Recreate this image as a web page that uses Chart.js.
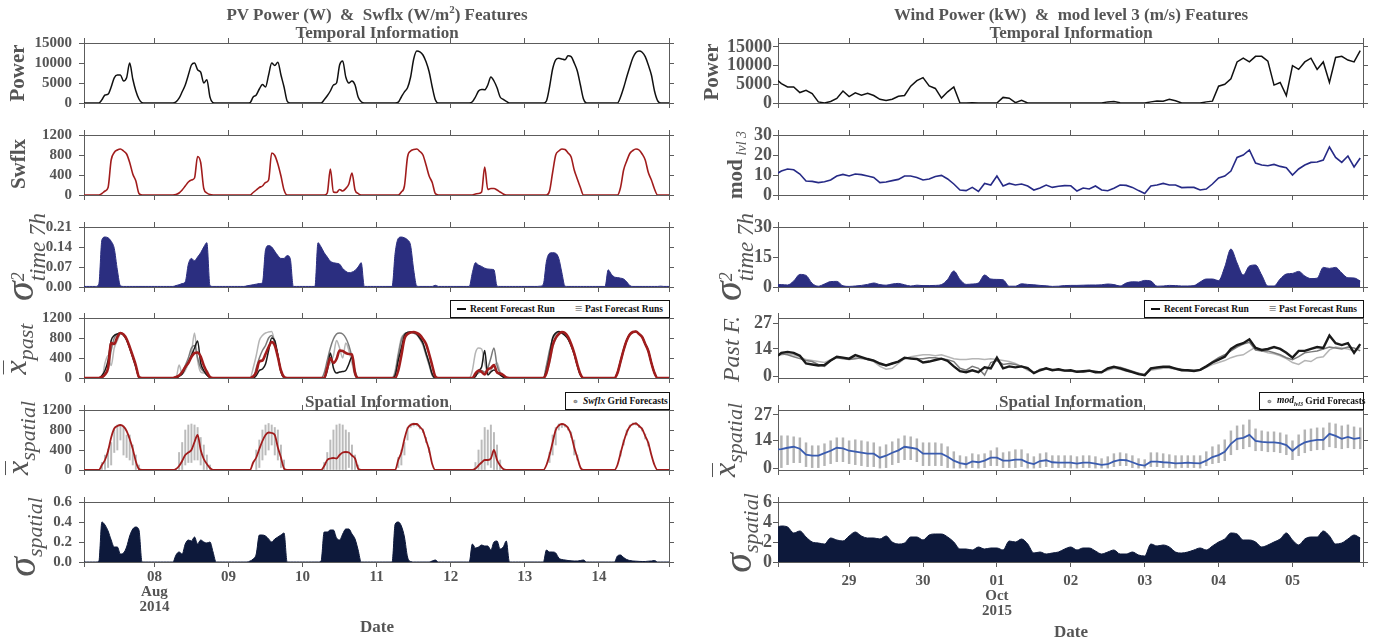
<!DOCTYPE html>
<html>
<head>
<meta charset="utf-8">
<script src="https://cdn.jsdelivr.net/npm/chart.js@4.4.1/dist/chart.umd.min.js"></script>
<style>
  body { margin: 0; background: #fff; }
  #fig { position: relative; width: 1385px; height: 644px; overflow: hidden; background: #fff; }
  #plots canvas { position: absolute; }
  .t { position: absolute; transform: translate(-50%, -50%); white-space: nowrap; color: #555;
       font-family: 'Liberation Serif', serif; font-weight: bold; font-size: 17px; line-height: 1; }
  .t sup { font-size: 11px; position: relative; top: -1px; }
  .yl { position: absolute; transform: translate(-50%, -50%) rotate(-90deg); white-space: nowrap; color: #555;
        font-family: 'Liberation Serif', serif; line-height: 1; }
  .b { font-weight: bold; font-size: 21px; }
  .big { font-style: italic; font-size: 40px; }
  .ss { display: inline-flex; flex-direction: column; vertical-align: middle; font-style: italic; line-height: 0.95; }
  .sp { font-size: 18px; }
  .sb { font-size: 23px; }
  .xb { display: inline-block; font-style: italic; font-size: 32px; line-height: 0.6; border-top: 1.5px solid #555; padding-top: 2px; }
  .sub { font-style: italic; font-size: 22px; vertical-align: -7px; }
  .lg { position: absolute; box-sizing: border-box; border: 1px solid #111; background: #fff; display: flex; align-items: center;
        font-family: 'Liberation Serif', serif; font-weight: bold; font-size: 9.5px; color: #111; white-space: nowrap; }
  .lg .ln { display: inline-block; width: 9px; height: 2px; background: #111; margin: 0 4px 0 6px; }
  .lg .eq { color: #888; font-size: 13px; margin: 0 3px 0 auto; }
  .lg .dot { color: #888; font-size: 11px; margin: 0 4px 0 6px; }
</style>
</head>
<body>
<div id="fig">
  <div id="plots"></div>

  <div class="t" style="left:377px;top:14px">PV Power (W)&nbsp;&nbsp;&amp;&nbsp;&nbsp;Swflx (W/m<sup>2</sup>) Features</div>
  <div class="t" style="left:377px;top:32px">Temporal Information</div>
  <div class="t" style="left:1071px;top:14px">Wind Power (kW)&nbsp;&nbsp;&amp;&nbsp;&nbsp;mod level 3 (m/s) Features</div>
  <div class="t" style="left:1071px;top:32px">Temporal Information</div>
  <div class="t" style="left:377px;top:401px">Spatial Information</div>
  <div class="t" style="left:1071px;top:401px">Spatial Information</div>
  <div class="t" style="left:377px;top:626px">Date</div>
  <div class="t" style="left:1071px;top:631px">Date</div>

  <div class="yl b" style="left:17px;top:73px">Power</div>
  <div class="yl b" style="left:18px;top:164px">Swflx</div>
  <div class="yl" style="left:24px;top:257px"><span class="big">σ</span><span class="ss"><span class="sp">2</span><span class="sb">time 7h</span></span></div>
  <div class="yl" style="left:20px;top:349px"><span class="xb">x</span><span class="sub">past</span></div>
  <div class="yl" style="left:22px;top:438px"><span class="xb">x</span><span class="sub">spatial</span></div>
  <div class="yl" style="left:24px;top:537px"><span class="big">σ</span><span class="sub">spatial</span></div>

  <div class="yl b" style="left:711px;top:72px">Power</div>
  <div class="yl" style="left:737px;top:165px"><span class="b">mod</span> <span style="font-style:italic;font-size:14px;vertical-align:-4px">lvl 3</span></div>
  <div class="yl" style="left:732px;top:257px"><span class="big">σ</span><span class="ss"><span class="sp">2</span><span class="sb">time 7h</span></span></div>
  <div class="yl" style="left:731px;top:349px;font-style:italic;font-size:24px">Past F.</div>
  <div class="yl" style="left:729px;top:440px"><span class="xb">x</span><span class="sub">spatial</span></div>
  <div class="yl" style="left:740px;top:533px"><span class="big">σ</span><span class="sub">spatial</span></div>

  <div class="lg" style="left:450px;top:300px;width:220px;height:18px"><span class="ln"></span>Recent Forecast Run<span class="eq">≡</span><span style="margin-right:6px">Past Forecast Runs</span></div>
  <div class="lg" style="left:1144px;top:300px;width:220px;height:18px"><span class="ln"></span>Recent Forecast Run<span class="eq">≡</span><span style="margin-right:6px">Past Forecast Runs</span></div>
  <div class="lg" style="left:565px;top:392px;width:105px;height:18px"><span class="dot">∘</span><i>Swflx</i>&nbsp;Grid Forecasts</div>
  <div class="lg" style="left:1259px;top:392px;width:105px;height:18px"><span class="dot">∘</span><i>mod<sub style="font-size:6px">lvl3</sub></i>&nbsp;Grid Forecasts</div>
</div>

<script>
// ---------- PV side (Aug 7-14 2014), hourly values, one row per day ----------
const pvDayLabels = [['08', 'Aug', '2014'], '09', '10', '11', '12', '13', '14'];

const pvPower = [
  [0,0,0,0,0,0,0,800,2000,2200,4000,6300,7000,7000,5500,6300,10000,6000,3000,1000,100,0,0,0],
  [0,0,0,0,0,0,0,300,1200,2800,4500,7000,9500,10000,8300,7700,5000,5800,1500,100,0,0,0,0],
  [0,0,0,0,0,0,0,100,1500,2000,3500,4600,4000,7000,10000,9400,10200,7000,4000,500,0,0,0,0],
  [0,0,0,0,0,0,0,800,1800,3000,4500,5000,9500,10500,6500,5000,5500,4500,1500,300,0,0,0,0],
  [0,0,0,0,0,0,0,200,1500,2800,3800,6500,11000,13000,12800,12000,10300,7800,4000,800,0,0,0,0],
  [0,0,0,0,0,0,0,300,1500,3000,3400,3300,4500,6500,5500,3800,1500,900,400,0,0,0,0,0],
  [0,0,0,0,0,0,0,500,4000,8500,10800,11200,11000,10800,11800,11600,10000,8000,4500,1000,0,0,0,0],
  [0,0,0,0,0,0,0,1500,3800,6500,9000,11300,12600,13000,12700,11600,9500,7000,3000,600,0,0,0,0]
];

const pvSwflx = [
  [0,0,0,0,0,0,0,30,80,150,700,850,900,920,880,820,650,420,280,30,0,0,0,0],
  [0,0,0,0,0,0,0,10,40,100,180,260,300,340,770,650,130,40,10,0,0,0,0,0],
  [0,0,0,0,0,0,0,0,50,100,150,180,250,300,840,790,620,380,100,0,0,0,0,0],
  [0,0,0,0,0,0,0,0,40,520,60,50,110,80,130,220,440,100,30,0,0,0,0,0],
  [0,0,0,0,0,0,0,0,60,180,760,880,910,920,870,800,600,380,250,30,0,0,0,0],
  [0,0,0,0,0,0,0,0,20,30,60,560,110,130,130,100,60,20,0,0,0,0,0,0],
  [0,0,0,0,0,0,0,0,80,450,800,880,920,910,840,760,500,320,150,0,0,0,0,0],
  [0,0,0,0,0,0,0,150,500,680,830,890,920,900,820,700,450,300,120,0,0,0,0,0]
];

const pvVarTime = [
  [0.002,0.002,0.002,0.002,0.002,0.002,0.01,0.165,0.175,0.172,0.16,0.135,0.06,0.004,0.002,0.002,0.002,0.002,0.002,0.002,0.002,0.002,0.002,0.002],
  [0.002,0.002,0.002,0.002,0.002,0.002,0.002,0.005,0.008,0.012,0.018,0.08,0.1,0.092,0.105,0.12,0.14,0.155,0.005,0.002,0.002,0.002,0.002,0.002],
  [0.002,0.002,0.002,0.002,0.002,0.002,0.004,0.006,0.008,0.01,0.012,0.015,0.13,0.145,0.14,0.125,0.11,0.1,0.1,0.11,0.1,0.002,0.002,0.002],
  [0.002,0.002,0.002,0.002,0.002,0.155,0.14,0.12,0.105,0.09,0.085,0.083,0.08,0.065,0.055,0.05,0.052,0.058,0.07,0.085,0.002,0.002,0.002,0.002],
  [0.002,0.002,0.002,0.002,0.002,0.002,0.12,0.17,0.175,0.172,0.165,0.145,0.06,0.003,0.002,0.002,0.002,0.002,0.002,0.006,0.002,0.002,0.002,0.002],
  [0.002,0.002,0.002,0.002,0.002,0.002,0.002,0.05,0.085,0.077,0.072,0.066,0.063,0.062,0.06,0.003,0.002,0.002,0.002,0.002,0.002,0.002,0.002,0.002],
  [0.002,0.002,0.002,0.002,0.002,0.003,0.01,0.09,0.118,0.12,0.118,0.1,0.05,0.003,0.002,0.002,0.002,0.002,0.002,0.002,0.002,0.002,0.002,0.002],
  [0.002,0.002,0.002,0.06,0.045,0.035,0.033,0.031,0.028,0.018,0.005,0.002,0.002,0.002,0.002,0.002,0.002,0.002,0.002,0.002,0.003,0.002,0.002,0.002]
];

const pvPastMean = [
  [0,0,0,0,0,0,0,20,70,200,700,680,820,900,870,780,620,440,250,20,0,0,0,0],
  [0,0,0,0,0,0,0,20,50,120,220,300,420,500,510,430,250,120,20,0,0,0,0,0],
  [0,0,0,0,0,0,0,0,30,120,330,350,480,620,720,650,420,150,20,0,0,0,0,0],
  [0,0,0,0,0,0,0,0,200,400,300,380,550,540,500,480,470,100,0,0,0,0,0,0],
  [0,0,0,0,0,0,0,150,450,780,880,910,920,900,860,780,680,480,250,30,0,0,0,0],
  [0,0,0,0,0,0,0,0,90,150,120,70,170,200,260,110,90,60,10,0,0,0,0,0],
  [0,0,0,0,0,0,0,100,350,650,800,880,920,900,820,680,500,270,80,0,0,0,0,0],
  [0,0,0,0,0,0,100,330,560,750,870,920,930,880,820,680,540,300,100,0,0,0,0,0]
];
const pvPastRecent = [
  [0,0,0,0,0,0,0,50,150,350,750,850,880,900,860,760,600,420,230,20,0,0,0,0],
  [0,0,0,0,0,0,0,0,40,80,200,320,450,600,740,300,150,60,10,0,0,0,0,0],
  [0,0,0,0,0,0,0,0,0,50,150,180,280,550,800,750,450,120,10,0,0,0,0,0],
  [0,0,0,0,0,0,0,0,150,500,200,100,120,130,150,280,420,80,0,0,0,0,0,0],
  [0,0,0,0,0,0,50,350,600,850,910,920,910,880,800,700,500,300,80,0,0,0,0,0],
  [0,0,0,0,0,0,0,0,30,150,220,550,60,120,160,120,60,20,0,0,0,0,0,0],
  [0,0,0,0,0,0,0,150,450,800,900,930,900,850,780,650,480,250,60,0,0,0,0,0],
  [0,0,0,0,0,0,100,330,560,750,870,920,930,880,820,680,540,300,100,0,0,0,0,0]
];
const pvPastOldA = [
  [0,0,0,0,0,0,0,0,300,450,250,600,750,880,870,780,600,400,200,20,0,0,0,0],
  [0,0,0,0,0,0,0,0,260,80,150,300,500,900,350,120,100,150,30,0,0,0,0,0],
  [0,0,0,0,0,0,0,0,200,450,750,850,900,920,930,700,450,150,0,0,0,0,0,0],
  [0,0,0,0,0,0,0,0,200,300,450,750,600,400,700,550,300,50,0,0,0,0,0,0],
  [0,0,0,0,0,0,150,500,800,880,910,920,900,860,780,650,450,250,50,0,0,0,0,0],
  [0,0,0,0,0,0,0,150,500,600,580,300,100,150,250,300,120,30,0,0,0,0,0,0],
  [0,0,0,0,0,0,0,80,300,600,780,880,920,900,820,680,500,270,80,0,0,0,0,0],
  [0,0,0,0,0,0,80,300,540,740,860,910,930,880,820,680,540,300,100,0,0,0,0,0]
];
const pvPastOldB = [
  [0,0,0,0,0,0,0,0,80,200,550,800,880,900,860,760,600,420,220,20,0,0,0,0],
  [0,0,0,0,0,0,0,0,30,100,250,400,600,650,400,200,130,60,10,0,0,0,0,0],
  [0,0,0,0,0,0,0,0,0,200,400,550,650,800,850,700,450,150,20,0,0,0,0,0],
  [0,0,0,0,0,0,0,100,350,600,780,880,900,880,800,650,420,150,0,0,0,0,0,0],
  [0,0,0,0,0,0,100,450,750,880,910,920,900,870,790,680,480,280,60,0,0,0,0,0],
  [0,0,0,0,0,0,0,0,50,100,150,120,200,400,600,250,100,20,0,0,0,0,0,0],
  [0,0,0,0,0,0,0,250,550,780,880,920,910,860,780,640,470,250,60,0,0,0,0,0],
  [0,0,0,0,0,0,120,350,580,760,880,920,930,880,820,680,540,300,100,0,0,0,0,0]
];

const pvSpatialMean = [
  [0,0,0,0,0,0,0,100,200,380,650,830,880,900,870,780,620,420,170,20,0,0,0,0],
  [0,0,0,0,0,0,0,20,80,180,300,350,400,560,700,400,220,120,40,0,0,0,0,0],
  [0,0,0,0,0,0,0,0,150,250,420,580,700,750,740,700,450,250,30,0,0,0,0,0],
  [0,0,0,0,0,0,0,80,200,230,240,230,300,350,360,350,290,230,30,0,0,0,0,0],
  [0,0,0,0,0,0,0,200,350,620,830,900,920,920,860,790,600,400,120,0,0,0,0,0],
  [0,0,0,0,0,0,0,0,30,90,150,200,200,230,400,200,90,20,0,0,0,0,0,0],
  [0,0,0,0,0,0,0,100,300,550,800,890,920,900,840,700,450,250,50,0,0,0,0,0],
  [0,0,0,0,0,0,100,330,560,750,870,920,930,880,820,680,540,300,100,0,0,0,0,0]
];
// spread of the grid forecasts (hour, lowest, highest)
const pvGridHour = [7,8,9,10,11,12,13,14,15,16,17,18,19, 32,33,34,35,36,37,38,39,40,41,42,
  57,58,59,60,61,62,63,64,65,66, 79,80,81,82,83,84,85,86,87,88,89,90,
  103,104,105,106,107,108,109,110,111,112,113, 128,129,130,131,132,133,134,135,136,
  152,153,154,155,156,157,158,159,160,161, 175,176,177,178,179,180,181,182,183,184];
const pvGridLow = [0,0,50,100,350,400,600,300,250,200,100,0,0, 0,0,100,150,150,200,200,100,0,0,0,
  0,50,200,300,400,500,300,200,50,0, 0,0,0,0,0,0,0,0,50,0,0,0,
  50,100,300,600,850,880,880,820,750,550,350, 0,0,0,0,100,50,0,0,0,
  150,300,500,800,850,860,800,650,300,200, 280,500,700,850,900,900,850,780,620,480];
const pvGridHigh = [150,300,420,550,800,900,900,860,700,700,500,300,100, 350,550,800,900,920,900,850,650,500,300,100,
  400,600,800,900,930,900,850,800,500,200, 150,350,600,800,900,920,900,800,750,500,300,100,
  250,400,550,850,920,940,930,880,820,650,450, 150,400,600,850,800,900,750,500,200,
  350,700,850,920,930,910,860,760,600,300, 380,600,800,900,940,950,900,840,720,560];

const pvSigmaSpatial = [
  [0,0,0,0,0,0,0.005,0.4,0.37,0.31,0.22,0.15,0.15,0.08,0.09,0.15,0.26,0.33,0.35,0.32,0,0,0,0],
  [0,0,0,0,0,0,0,0.07,0.1,0.08,0.18,0.22,0.21,0.25,0.18,0.22,0.2,0.19,0.2,0.1,0,0,0,0],
  [0,0,0,0,0,0,0,0.01,0.03,0.08,0.27,0.27,0.26,0.23,0.2,0.23,0.25,0.27,0.29,0,0,0,0,0],
  [0,0,0,0,0,0,0.01,0.3,0.3,0.32,0.32,0.24,0.22,0.28,0.33,0.33,0.28,0.23,0.12,0,0,0,0,0],
  [0,0,0,0,0,0,0.38,0.4,0.36,0.25,0.05,0.005,0,0,0,0,0,0,0.01,0.02,0,0,0,0],
  [0,0,0,0,0,0,0,0.18,0.14,0.15,0.17,0.16,0.16,0.12,0.2,0.21,0.13,0.15,0.21,0,0,0,0,0],
  [0,0,0,0,0,0,0,0.12,0.1,0.1,0.09,0.04,0.025,0.02,0.015,0.012,0.01,0.01,0.015,0.02,0,0,0,0],
  [0,0,0,0,0,0,0.06,0.07,0.045,0.025,0.015,0.01,0.008,0.006,0.005,0.005,0.008,0.01,0.015,0,0,0,0,0]
];

// ---------- Wind side (Sep 28 - Oct 5 2015), every 2 hours from 00:00 Sep 28 ----------
const windDayLabels = ['29', '30', ['01', 'Oct', '2015'], '02', '03', '04', '05'];

const windPower = [
  6600,5200,4300,4300,2800,3400,2500,300,0,400,1200,3200,
  1700,2700,2100,2600,2000,1000,700,1000,1800,2000,4500,6000,
  6800,4600,3900,1300,3000,4300,0,0,100,0,0,0,
  0,1500,1300,100,700,0,0,0,0,0,0,0,
  0,0,0,0,0,0,300,400,100,0,0,0,
  0,300,550,500,1000,600,0,0,0,0,300,500,
  4500,5000,6500,11000,12000,11000,12500,12500,11200,4800,5500,2000,
  10000,9000,11000,12000,9000,11000,5500,12200,12500,11500,11000,14000
];
const windMod = [
  10.2,12,13,12.6,10.5,7,6.8,6.2,6.6,7.5,9.5,10.3,
  9.5,10.5,10.2,9.5,8.8,6.2,6.5,7.2,7.8,9.5,9.5,8.8,
  7.5,8,9.3,9.8,8,5.5,2.5,2.2,3.8,1.8,5.8,5,
  9.5,4.5,5.8,5,5.5,4.5,2.5,3.5,5,3.8,4.4,4.7,
  4.6,2,3.5,3,4.5,2.5,2.1,3.4,5,4.8,3.8,2.2,
  0.8,4.5,5,5.8,5,5,3.7,3.8,3.8,2.5,3,5.5,
  8.5,9.5,12,18.8,20,22.5,16,15,14.6,15.3,14.3,13.6,
  10,13,15,16.3,16.5,17.5,24,18.8,16.3,19.5,14,18.5
];
const windVarTime = [
  1.2,1.2,1,3,6.3,5.8,1.8,0.4,1.5,2.7,2.8,0.6,
  0.3,0.5,0.8,1.3,2,1.2,0.9,1.5,1.8,1.1,0.5,0.9,
  0.7,0.7,0.8,1.2,3.8,8,3.8,1.3,1.5,2,6,4,
  3.8,3.6,0.4,0.4,1.6,1.3,1.1,0.8,0.6,0.3,0.4,0.7,
  0.8,0.8,0.9,1,1,1.1,1.5,1.2,0.5,2,2.6,2.5,
  3.3,3,0.4,0.5,0.8,0.7,0.5,0.5,0.7,2.5,4,4,
  3.2,10,19,12,6,10.5,11,6,0.5,0.5,4,6.5,
  6.8,7.8,5.5,4.2,4.4,9.8,9.3,9.8,7,4.6,4.5,3
];
const windPastRecent = [
  9.5,12,12.5,12,10.5,6.5,6,5.5,5.7,8,10,9.5,
  9,10.8,9.8,8.8,8,6.5,5.5,6.5,7.5,9.5,9,8.8,
  7,7.5,8.3,9,7.8,5,2.5,2,3,2,4.5,4,
  9.5,4,5,4.5,5,4,1.5,3,4,3,3.5,2.8,
  3,2.2,2.5,2.8,2,2,4,4.8,4,3,2,1,
  0.5,4,4.5,4.8,4.8,3.8,3,3,2.6,3.2,5,7,
  8.5,10,14,16,17,19,14.5,13.5,14,15,14,12,
  9.5,13,13,14,15,14.5,21,17,16,17,12,16.5
];
const windPastOldA = [
  10,11,11.5,11,10,8.5,8,7.5,7,8.5,10,9.5,
  9,9.5,9,8.5,7.5,5,3.5,4,6.5,9,10,10.5,
  11,11,10.5,11,10,9,8.5,8.5,9,9,8.5,9,
  8.5,8,7.5,6.5,5,3,2,3,3.5,3.5,3,2.5,
  2.5,2,2.5,3,2.5,2,3,4,3.5,2.5,2,1.5,
  1,3,3.5,4,4,3.5,3,2.5,2.5,3,4.5,6,
  7,8,9.5,10.5,11,13,15,13,12,11.5,10.5,9,
  7,6,8,7.5,9.5,10,13.5,15,14.5,14,13,15
];
const windPastOldB = [
  10.5,11.5,11,10,9,8,7.5,6,5,8,9.5,9,
  8.5,9,9.5,8.5,8,6,5.5,6.5,7.5,9,9.5,9,
  9,9.5,9.5,9,8.5,7.5,4,3,5,4,0.5,7,
  8,6,6.5,6,5,4.5,1.5,3.5,4,3,3.5,3,
  2.5,2.5,2,2.5,2.5,2,3.5,4.5,4.5,3.5,2.5,1.5,
  0.5,3.5,4,4.5,4.5,4,3.5,3,3,3,5,7.5,
  9.5,11,13,15,16.5,17.5,13.5,13,13,12,11,9.5,
  8.5,10,12,12.5,13,14,15,14.5,14,15,14.5,13
];
const windSpatialMean = [
  9.5,9.8,10.5,11,10,7,6.5,6.5,7.8,9,10.5,10.2,
  9,8.5,8,7.5,7.5,5.5,6.5,8,9.2,11,10.5,10,
  7.5,7.5,7.5,7.5,6,4,2.8,2.2,3.6,3.2,4,5.5,
  5.5,4,4,4.5,4.5,3,2.3,3.8,4.2,3.2,3,3,
  3,2.5,3,3,2.5,1.9,2.2,3.6,4.4,4.2,3.2,2,
  1.5,3.5,3.5,3.2,3,2.6,2.8,3,2.8,2.6,4,5.8,
  6.8,8.5,12.5,15,15.5,17,14,13.5,13.2,13.2,12.8,11.8,
  9,11.5,13.2,14,14.5,14.5,17.5,16.5,15,16,15,15.5
];
const windGridLow = [
  1,0.5,2,3,3,1,0.5,0.5,1.5,2.5,3.5,3.5,
  2.5,2,1.5,1,1,0,0.5,2,3,4.5,4.5,3.5,
  1.5,1.5,1.5,1.5,0.5,0,0,0,0.5,0,0.5,1.5,
  1.5,0.5,0.5,0.5,1,0,0,0.5,1,0.5,0.5,0.5,
  0,0,0.5,0.5,0,0,0,1,1.5,1.5,0.5,0,
  0,1,1,0.5,0.5,0,0.5,0.5,0.5,0,1.5,2.5,
  3,4,7,9.5,10,11,9,9,8.5,8.5,8,7,
  4.5,6.5,8,9,9.5,9.5,11,10.5,10,10.5,10,10
];
const windGridHigh = [
  16.5,16.5,16.5,16,15.5,13,11.5,11.5,12.5,14,15.5,15.5,
  14,14.5,14,13.5,13,11,12,13.5,15,16.5,16,15,
  13,13,13,12.5,11,8.5,6.5,6,7.5,7,7.5,9,
  10.5,8,8.5,9.5,9.5,7.5,6,7.5,8,6.5,6.5,6.5,
  6.5,6,6.5,6.5,6,5,6,7.5,8,7.5,6.5,5,
  4.5,8,8,7.5,7,6.5,6.5,6.5,6.5,6.5,8.5,11,
  12,14.5,19,21.5,22,24.5,20,19,18.5,18.5,18,17,
  14,17,19.5,20,20.5,20.5,23,22.5,21.5,22,21,20.5
];
const windSigmaSpatial = [
  3.4,3.6,3.5,2.9,3.1,2.5,2,1.9,1.8,2.4,2.2,2.1,
  2.6,3,2.6,2.4,2.4,2.3,2.6,2,1.8,1.9,2.5,2.5,
  2.2,2.7,2.8,2.8,2.5,2,1.3,1.3,1.2,1.5,1.3,1.4,
  1.4,1.2,2.1,2,2.3,1.8,0.9,1,0.8,0.9,1,1.3,
  1.5,1.2,1.4,1.4,1.1,0.8,1,1.2,0.8,0.8,1,0.7,
  0.6,1.8,1.6,1.7,1.5,1,0.9,1,1.2,1.4,1.2,1.6,
  2,2.3,2.9,2.8,2.2,2.2,2,1.5,1.7,2,2.3,2.9,
  2.2,1.7,2.3,2.5,2.5,3.1,2.6,1.8,1.9,2.3,2.7,2.4
];

// y ticks for each row
const pvPowerTicks = [0, 5000, 10000, 15000];
const swflxTicks = [0, 400, 800, 1200];
const pvVarTicks = [0, 0.07, 0.14, 0.21];
const pvSigmaTicks = [0, 0.2, 0.4, 0.6];
const windPowerTicks = [0, 5000, 10000, 15000];
const modTicks = [0, 10, 20, 30];
const windVarTicks = [0, 15, 30];
const windFcTicks = [0, 14, 27];
const windSigmaTicks = [0, 2, 4, 6];

// ---------- drawing ----------
const AXIS = '#5c5c5c';
const TXT = '#555';
const SERIF = "'Liberation Serif', serif";
const RED = '#a11c1c';
const NAVY = '#2b2e80';
const DARK = '#0d193b';
const PLOT_W = 585, PLOT_H = 60;
const ROW_TOP = [43, 135, 227, 318, 410, 502];
const PV_LEFT = 84, WIND_LEFT = 778;

const hourly = days => days.flat().map((y, h) => ({x: h, y}));
const twoHourly = vals => vals.map((y, i) => ({x: i * 2, y}));

function line(data, color, width, smooth) {
  return {type: 'line', data, borderColor: color, borderWidth: width, pointRadius: 0, fill: false,
          cubicInterpolationMode: smooth ? 'monotone' : 'default', tension: 0, xAxisID: 'x', yAxisID: 'y'};
}
function area(data, color) {
  return {type: 'line', data, borderColor: color, backgroundColor: color, borderWidth: 1, pointRadius: 0,
          fill: 'origin', cubicInterpolationMode: 'monotone', xAxisID: 'x', yAxisID: 'y'};
}
function spread(hours, low, high, color, width) {
  return {type: 'bar', data: hours.map((h, i) => ({x: h, y: [low[i], high[i]]})),
          backgroundColor: color, barThickness: width, grouped: false, xAxisID: 'x', yAxisID: 'y'};
}

function dayLabel(v, labels) {
  if (!labels) return '';
  const k = v / 24;
  return Number.isInteger(k) && k >= 1 && k <= labels.length ? labels[k - 1] : '';
}

function addPlot(o) {
  // generous margins so the tick-label padding never squeezes the 585x60 plot box
  const padL = 70, padR = 8, padT = 22, padB = o.xLabels ? 64 : 22;
  const canvas = document.createElement('canvas');
  canvas.width = padL + PLOT_W + padR;
  canvas.height = padT + PLOT_H + padB;
  canvas.style.left = (o.left - padL) + 'px';
  canvas.style.top = (o.top - padT) + 'px';
  canvas.style.width = canvas.width + 'px';
  canvas.style.height = canvas.height + 'px';
  document.getElementById('plots').appendChild(canvas);

  const xTickVals = [o.xMin, 24, 48, 72, 96, 120, 144, 168, o.xMax];
  const grid = {drawOnChartArea: false, drawTicks: true, tickLength: 5, color: AXIS, lineWidth: 1, offset: false};
  const border = {color: AXIS, width: 1};
  const setX = s => { s.ticks = xTickVals.map(v => ({value: v})); };
  const setY = s => { s.ticks = o.yTicks.map(v => ({value: v})); };

  new Chart(canvas, {
    type: 'line',
    data: {datasets: o.datasets},
    options: {
      responsive: false, animation: false, devicePixelRatio: 1, events: [],
      layout: {padding: 0},
      plugins: {legend: {display: false}, tooltip: {enabled: false}},
      scales: {
        x: {
          type: 'linear', position: 'bottom', min: o.xMin, max: o.xMax, offset: false, grid, border,
          ticks: {display: !!o.xLabels, autoSkip: false, maxRotation: 0, padding: o.xPad, color: TXT,
                  font: {family: SERIF, weight: 'bold', size: 15, lineHeight: 1}, callback: v => dayLabel(v, o.xLabels)},
          afterBuildTicks: setX, afterFit: s => { s.height = padB; }
        },
        xTop: {
          type: 'linear', position: 'top', min: o.xMin, max: o.xMax, offset: false, grid, border,
          ticks: {display: false}, afterBuildTicks: setX, afterFit: s => { s.height = padT; }
        },
        y: {
          type: 'linear', position: 'left', min: o.yMin, max: o.yMax, grid, border,
          ticks: {autoSkip: false, padding: o.yPad, color: TXT, font: {family: SERIF, weight: 'bold', size: o.yFont},
                  callback: o.yFmt},
          afterBuildTicks: setY, afterFit: s => { s.width = padL; }
        },
        yRight: {
          type: 'linear', position: 'right', min: o.yMin, max: o.yMax, grid, border,
          ticks: {display: false}, afterBuildTicks: setY, afterFit: s => { s.width = padR; }
        }
      }
    }
  });
}

const pv = {left: PV_LEFT, xMin: 1.2, xMax: 190.7, yPad: 7, yFont: 15, xPad: 3};
const wind = {left: WIND_LEFT, xMin: 0.9, xMax: 190.9, yPad: 1, yFont: 18, xPad: 7};
const int = v => String(v);

// PV column
addPlot({...pv, top: ROW_TOP[0], yMin: 0, yMax: 15000, yTicks: pvPowerTicks, yFmt: int,
  datasets: [line(hourly(pvPower), '#111', 1.5, true)]});
addPlot({...pv, top: ROW_TOP[1], yMin: 0, yMax: 1200, yTicks: swflxTicks, yFmt: int,
  datasets: [line(hourly(pvSwflx), RED, 1.6, true)]});
addPlot({...pv, top: ROW_TOP[2], yMin: 0, yMax: 0.21, yTicks: pvVarTicks, yFmt: v => v.toFixed(2),
  datasets: [area(hourly(pvVarTime), NAVY)]});
addPlot({...pv, top: ROW_TOP[3], yMin: 0, yMax: 1200, yTicks: swflxTicks, yFmt: int,
  datasets: [line(hourly(pvPastMean), RED, 2.6, true), line(hourly(pvPastRecent), '#1a1a1a', 1.5, true),
             line(hourly(pvPastOldB), '#7a7a7a', 1.5, true), line(hourly(pvPastOldA), '#b5b5b5', 1.5, true)]});
addPlot({...pv, top: ROW_TOP[4], yMin: 0, yMax: 1200, yTicks: swflxTicks, yFmt: int,
  datasets: [line(hourly(pvSpatialMean), RED, 1.8, true),
             spread(pvGridHour, pvGridLow, pvGridHigh, 'rgba(120,120,120,0.5)', 1.3)]});
addPlot({...pv, top: ROW_TOP[5], yMin: 0, yMax: 0.6, yTicks: pvSigmaTicks, yFmt: v => v.toFixed(1),
  xLabels: pvDayLabels, datasets: [area(hourly(pvSigmaSpatial), DARK)]});

// Wind column
addPlot({...wind, top: ROW_TOP[0], yMin: 0, yMax: 16070, yTicks: windPowerTicks, yFmt: int,
  datasets: [line(twoHourly(windPower), '#111', 1.5, false)]});
addPlot({...wind, top: ROW_TOP[1], yMin: 0, yMax: 30, yTicks: modTicks, yFmt: int,
  datasets: [line(twoHourly(windMod), '#262a86', 1.6, false)]});
addPlot({...wind, top: ROW_TOP[2], yMin: 0, yMax: 30, yTicks: windVarTicks, yFmt: int,
  datasets: [area(twoHourly(windVarTime), NAVY)]});
addPlot({...wind, top: ROW_TOP[3], yMin: -1, yMax: 30, yTicks: windFcTicks, yFmt: int,
  datasets: [line(twoHourly(windPastRecent), '#1a1a1a', 2.4, false), line(twoHourly(windPastOldB), '#7a7a7a', 1.5, false),
             line(twoHourly(windPastOldA), '#b5b5b5', 1.5, false)]});
addPlot({...wind, top: ROW_TOP[4], yMin: -0.7, yMax: 29.5, yTicks: windFcTicks, yFmt: int,
  datasets: [line(twoHourly(windSpatialMean), '#3a5cb0', 1.8, false),
             spread(windGridLow.map((v, i) => i * 2), windGridLow, windGridHigh, 'rgba(105,105,105,0.5)', 1.8)]});
addPlot({...wind, top: ROW_TOP[5], yMin: 0, yMax: 6, yTicks: windSigmaTicks, yFmt: int,
  xLabels: windDayLabels, datasets: [area(twoHourly(windSigmaSpatial), DARK)]});
</script>
</body>
</html>
